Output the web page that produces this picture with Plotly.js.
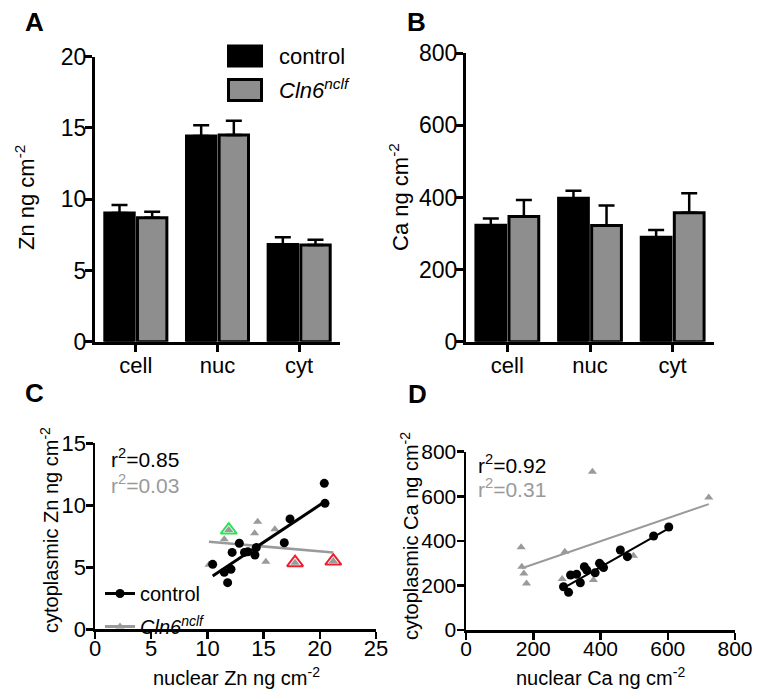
<!DOCTYPE html>
<html>
<head>
<meta charset="utf-8">
<script src="https://cdn.plot.ly/plotly-3.0.1.min.js"></script>
<style>html,body{margin:0;padding:0;background:#fff;}#chart{width:762px;height:699px;}</style>
</head>
<body>
<div id="chart"></div>
<script>
// ---------- DATA ----------
const categories = ["cell", "nuc", "cyt"];
// Panel A: Zn (ng cm-2)
const znControl = [9.03, 14.43, 6.82];
const znControlErr = [0.56, 0.76, 0.51];
const znCln6 = [8.70, 14.50, 6.78];
const znCln6Err = [0.42, 1.00, 0.37];
// Panel B: Ca (ng cm-2)
const caControl = [323, 398, 290];
const caControlErr = [19, 21, 20];
const caCln6 = [347, 322, 358];
const caCln6Err = [46, 56, 54];
// Panel C: nuclear vs cytoplasmic Zn
const znNucControl = [10.47, 11.5, 11.8, 12.1, 12.2, 12.84, 13.3, 13.6, 14.23, 14.35, 16.84, 17.35, 20.4, 20.46];
const znCytControl = [5.24, 4.6, 3.76, 4.84, 6.2, 6.94, 6.2, 6.25, 5.99, 6.6, 6.98, 8.9, 11.77, 10.16];
const znNucCln6 = [10.14, 11.5, 11.9, 14.2, 14.47, 15.2, 16.0, 17.8, 21.2];
const znCytCln6 = [5.2, 7.26, 8.0, 7.74, 8.68, 5.45, 8.06, 5.37, 5.5];
const znHighlightGreenX = [11.9];
const znHighlightGreenY = [8.0];
const znHighlightRedX = [17.8, 21.2];
const znHighlightRedY = [5.37, 5.5];
const znFitControlX = [10.47, 20.46];
const znFitControlY = [4.3, 10.3];
const znFitCln6X = [10.14, 21.2];
const znFitCln6Y = [7.06, 6.2];
const znR2 = ["0.85", "0.03"];
// Panel D: nuclear vs cytoplasmic Ca
const caNucControl = [290, 305, 311, 329, 340, 352, 359, 384, 397, 403, 409, 459, 480, 558, 603];
const caCytControl = [194, 169, 247, 250, 212, 284, 269, 257, 299, 289, 280, 359, 329, 422, 462];
const caNucCln6 = [164, 166, 172, 180, 286, 294, 376, 379, 498, 722];
const caCytCln6 = [371, 284, 254, 209, 229, 351, 710, 224, 333, 594];
const caFitControlX = [288, 603];
const caFitControlY = [187, 456];
const caFitCln6X = [166, 722];
const caFitCln6Y = [277, 565];
const caR2 = ["0.92", "0.31"];

// ---------- STYLE ----------
const FONT = "Liberation Sans, Arial, Helvetica, sans-serif";
const GRAYBAR = "#8e8e8e";
const GRAYPT = "#9a9a9a";
const W = 762, H = 699;
const px = v => v / W;
const py = v => 1 - v / H;

function barTrace(y, err, color, xa, ya) {
  return {
    type: "bar", x: categories, y: y, xaxis: xa, yaxis: ya,
    marker: {color: color, line: {color: "#000", width: 3}},
    error_y: {type: "data", array: err, arrayminus: err.map(() => 0), symmetric: false,
              color: "#000", thickness: 2.5, width: 8},
    showlegend: false, hoverinfo: "skip"
  };
}

const traces = [
  barTrace(znControl, znControlErr, "#000", "x", "y"),
  barTrace(znCln6, znCln6Err, GRAYBAR, "x", "y"),
  barTrace(caControl, caControlErr, "#000", "x2", "y2"),
  barTrace(caCln6, caCln6Err, GRAYBAR, "x2", "y2"),
  // Panel C
  {type: "scatter", mode: "markers", x: znHighlightGreenX, y: znHighlightGreenY, xaxis: "x3", yaxis: "y3",
   marker: {symbol: "triangle-up", size: 14, color: "#fff", line: {color: "#2ee05a", width: 2}}, showlegend: false},
  {type: "scatter", mode: "markers", x: znHighlightRedX, y: znHighlightRedY, xaxis: "x3", yaxis: "y3",
   marker: {symbol: "triangle-up", size: 14, color: "#fff", line: {color: "#ee2030", width: 2}}, showlegend: false},
  {type: "scatter", mode: "markers", x: znNucCln6, y: znCytCln6, xaxis: "x3", yaxis: "y3",
   marker: {symbol: "triangle-up", size: 8, color: GRAYPT}, showlegend: false},
  {type: "scatter", mode: "lines", x: znFitCln6X, y: znFitCln6Y, xaxis: "x3", yaxis: "y3",
   line: {color: GRAYPT, width: 2.5}, showlegend: false},
  {type: "scatter", mode: "markers", x: znNucControl, y: znCytControl, xaxis: "x3", yaxis: "y3",
   marker: {symbol: "circle", size: 9, color: "#000"}, showlegend: false},
  {type: "scatter", mode: "lines", x: znFitControlX, y: znFitControlY, xaxis: "x3", yaxis: "y3",
   line: {color: "#000", width: 3}, showlegend: false},
  // legend entries for panel C
  {type: "scatter", mode: "lines+markers", x: [null], y: [null], xaxis: "x3", yaxis: "y3", name: "control",
   legendgroup: "g1", line: {color: "#000", width: 3}, marker: {symbol: "circle", size: 9, color: "#000"}},
  {type: "scatter", mode: "lines+markers", x: [null], y: [null], xaxis: "x3", yaxis: "y3",
   name: "<i>Cln6</i><sup><i>nclf</i></sup>", legendgroup: "g2",
   line: {color: GRAYPT, width: 3}, marker: {symbol: "triangle-up", size: 8, color: GRAYPT}},
  // Panel D
  {type: "scatter", mode: "markers", x: caNucCln6, y: caCytCln6, xaxis: "x4", yaxis: "y4",
   marker: {symbol: "triangle-up", size: 8, color: GRAYPT}, showlegend: false},
  {type: "scatter", mode: "lines", x: caFitCln6X, y: caFitCln6Y, xaxis: "x4", yaxis: "y4",
   line: {color: GRAYPT, width: 2}, showlegend: false},
  {type: "scatter", mode: "markers", x: caNucControl, y: caCytControl, xaxis: "x4", yaxis: "y4",
   marker: {symbol: "circle", size: 9, color: "#000"}, showlegend: false},
  {type: "scatter", mode: "lines", x: caFitControlX, y: caFitControlY, xaxis: "x4", yaxis: "y4",
   line: {color: "#000", width: 2}, showlegend: false}
];

function axis(extra) {
  return Object.assign({
    showline: true, linecolor: "#000", linewidth: 3, ticks: "outside", ticklen: 7, tickwidth: 3,
    tickcolor: "#000", showgrid: false, zeroline: false, fixedrange: true,
    tickfont: {family: FONT, size: 21, color: "#000"}
  }, extra);
}
const bigNum = {family: FONT, size: 23, color: "#000"};
const catFont = {family: FONT, size: 22, color: "#000"};

const layout = {
  width: W, height: H, margin: {l: 0, r: 0, t: 0, b: 0},
  paper_bgcolor: "#fff", plot_bgcolor: "rgba(0,0,0,0)",
  font: {family: FONT, color: "#000"},
  barmode: "group", bargap: 0.2, bargroupgap: 0.1,
  xaxis: axis({domain: [px(95), px(340)], anchor: "y", type: "category", range: [-0.5, 2.5],
               tickfont: catFont, ticklabelstandoff: -5}),
  yaxis: axis({domain: [py(341.7), py(56.7)], anchor: "x", range: [0, 20], dtick: 5,
               tickfont: bigNum, ticklabelstandoff: -6}),
  xaxis2: axis({domain: [px(466), px(714)], anchor: "y2", type: "category", range: [-0.5, 2.5],
                tickfont: catFont, ticklabelstandoff: -5}),
  yaxis2: axis({domain: [py(341.7), py(53.3)], anchor: "x2", range: [0, 800], dtick: 200,
                tickfont: bigNum, ticklabelstandoff: -6}),
  xaxis3: axis({domain: [px(95), px(376)], anchor: "y3", range: [0, 25], dtick: 5, linewidth: 2.5, tickwidth: 2.5, ticklen: 7,
                tickfont: {family: FONT, size: 22, color: "#000"}, ticklabelstandoff: -9}),
  yaxis3: axis({domain: [py(629.3), py(443.3)], anchor: "x3", range: [0, 15], dtick: 5, linewidth: 2.5, tickwidth: 2.5, ticklen: 7,
                tickfont: {family: FONT, size: 22, color: "#000"}, ticklabelstandoff: -5}),
  xaxis4: axis({domain: [px(466), px(735)], anchor: "y4", range: [0, 800], dtick: 200, linewidth: 2.5, tickwidth: 2.5, ticklen: 7,
                ticklabelstandoff: -9}),
  yaxis4: axis({domain: [py(630), py(451.7)], anchor: "x4", range: [0, 800], dtick: 200, linewidth: 2.5, tickwidth: 2.5, ticklen: 7,
                ticklabelstandoff: -4}),
  showlegend: true,
  legend: {x: px(100), y: py(574), xanchor: "left", yanchor: "top", bgcolor: "rgba(0,0,0,0)",
           font: {family: FONT, size: 20, color: "#000"}, tracegroupgap: 4, itemwidth: 30},
  shapes: [
    {type: "rect", xref: "paper", yref: "paper", x0: px(228.5), x1: px(261.5), y0: py(66), y1: py(46),
     fillcolor: "#000", line: {color: "#000", width: 3}},
    {type: "rect", xref: "paper", yref: "paper", x0: px(228.5), x1: px(261.5), y0: py(100.5), y1: py(79.5),
     fillcolor: GRAYBAR, line: {color: "#000", width: 3}}
  ],
  annotations: []
};

function ann(text, x, y, opts) {
  layout.annotations.push(Object.assign({
    text: text, xref: "paper", yref: "paper", x: px(x), y: py(y), showarrow: false,
    xanchor: "center", yanchor: "middle", font: {family: FONT, size: 20, color: "#000"}
  }, opts || {}));
}

// panel letters
ann("<b>A</b>", 34, 22, {font: {family: FONT, size: 26, color: "#000"}});
ann("<b>B</b>", 416, 22, {font: {family: FONT, size: 26, color: "#000"}});
ann("<b>C</b>", 34, 393, {font: {family: FONT, size: 26, color: "#000"}});
ann("<b>D</b>", 417, 394, {font: {family: FONT, size: 26, color: "#000"}});
// legend A text
ann("control", 277, 56, {xanchor: "left", font: {family: FONT, size: 22, color: "#000"}});
ann("<i>Cln6</i><sup><i>nclf</i></sup>", 277, 89, {xanchor: "left", font: {family: FONT, size: 22, color: "#000"}});
// axis titles
ann("Zn ng cm<sup>-2</sup>", 25, 198, {textangle: -90, font: {family: FONT, size: 22, color: "#000"}});
ann("Ca ng cm<sup>-2</sup>", 399, 197, {textangle: -90, font: {family: FONT, size: 22, color: "#000"}});
ann("cytoplasmic Zn ng cm<sup>-2</sup>", 49, 530, {textangle: -90});
ann("cytoplasmic Ca ng cm<sup>-2</sup>", 409, 536, {textangle: -90});
ann("nuclear Zn ng cm<sup>-2</sup>", 236, 676);
ann("nuclear Ca ng cm<sup>-2</sup>", 600, 676);
// r2 labels
ann("r<sup>2</sup>=" + znR2[0], 109, 458, {xanchor: "left", font: {family: FONT, size: 21, color: "#000"}});
ann("r<sup>2</sup>=" + znR2[1], 109, 484, {xanchor: "left", font: {family: FONT, size: 21, color: GRAYPT}});
ann("r<sup>2</sup>=" + caR2[0], 476, 464, {xanchor: "left", font: {family: FONT, size: 21, color: "#000"}});
ann("r<sup>2</sup>=" + caR2[1], 476, 488, {xanchor: "left", font: {family: FONT, size: 21, color: GRAYPT}});

Plotly.newPlot("chart", traces, layout, {staticPlot: true, displayModeBar: false});
</script>
</body>
</html>
